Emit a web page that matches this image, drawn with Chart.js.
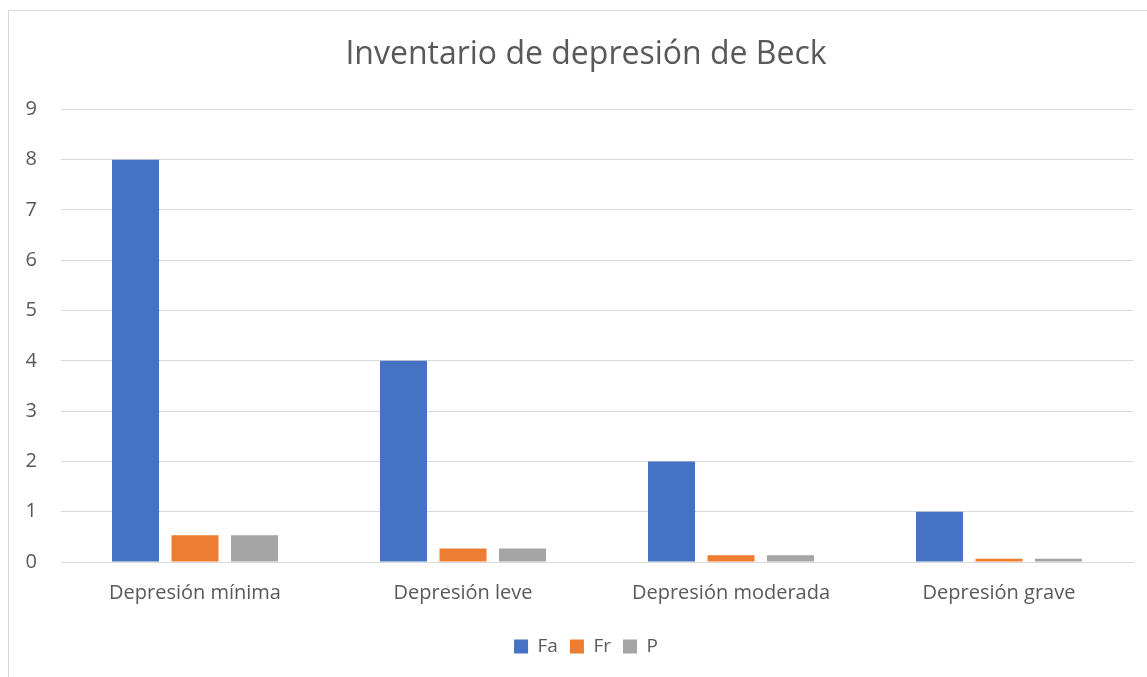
<!DOCTYPE html>
<html>
<head>
<meta charset="utf-8">
<script src="https://cdn.jsdelivr.net/npm/chart.js@4"></script>
<style>
  html, body { margin: 0; padding: 0; background: #fff; overflow: hidden; }
  #frame { position: absolute; left: 8px; top: 10px; width: 1160px; height: 700px; border: 1px solid #d9d9d9; }
  #chart { position: absolute; left: 0; top: 0; }
</style>
</head>
<body>
<div id="frame"></div>
<canvas id="chart" width="1172" height="677"></canvas>
<script>
const categories = ['Depresión mínima', 'Depresión leve', 'Depresión moderada', 'Depresión grave'];
const fa = [8, 4, 2, 1];
const fr = [0.533, 0.267, 0.133, 0.067];
const p = [0.533, 0.267, 0.133, 0.067];

Chart.defaults.font.family = "'Open Sans', sans-serif";
Chart.defaults.color = '#595959';

const ctx = document.getElementById('chart').getContext('2d');

new Chart(ctx, {
    type: 'bar',
    data: {
        labels: categories,
        datasets: [
            { label: 'Fa', data: fa, backgroundColor: '#4472C4' },
            { label: 'Fr', data: fr, backgroundColor: '#ED7D31' },
            { label: 'P', data: p, backgroundColor: '#A5A5A5' }
        ]
    },
    options: {
        responsive: false,
        animation: false,
        devicePixelRatio: 1,
        categoryPercentage: 0.666,
        barPercentage: 0.79,
        layout: { padding: { left: 0, right: 0, top: 0, bottom: 11 } },
        plugins: {
            title: {
                display: true,
                text: 'Inventario de depresión de Beck',
                color: '#595959',
                font: { size: 32, weight: 'normal' },
                padding: { top: 36, bottom: 35 }
            },
            legend: {
                position: 'bottom',
                labels: {
                    boxWidth: 14,
                    boxHeight: 14,
                    padding: 12,
                    color: '#595959',
                    font: { size: 19 }
                }
            },
            tooltip: { enabled: false }
        },
        scales: {
            x: {
                grid: { display: false, drawTicks: false },
                border: { display: true, color: '#d9d9d9', width: 1 },
                ticks: { padding: 19, font: { size: 20 }, color: '#595959' },
                afterFit: function(scale) { scale.height = 63; }
            },
            y: {
                min: 0,
                max: 9,
                ticks: { stepSize: 1, padding: 24, font: { size: 20 }, color: '#595959' },
                grid: { color: '#d9d9d9', drawTicks: false },
                border: { display: false },
                afterFit: function(scale) { scale.width = 61; }
            },
            // empty right margin so the title is centred like the original frame
            yRight: {
                position: 'right',
                min: 0,
                max: 9,
                ticks: { display: false },
                grid: { display: false, drawTicks: false },
                border: { display: false },
                afterFit: function(scale) { scale.width = 39; }
            }
        }
    }
});
</script>
</body>
</html>
